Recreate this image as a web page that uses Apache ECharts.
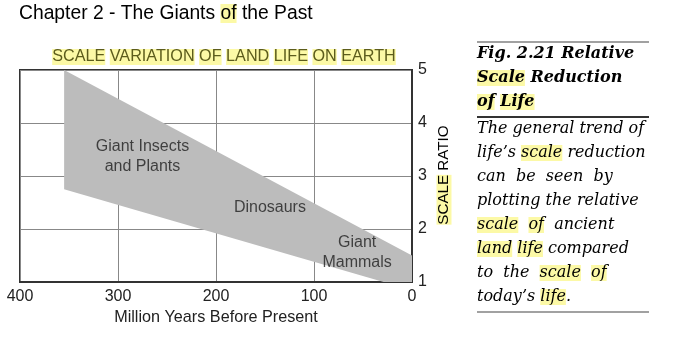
<!DOCTYPE html>
<html><head><meta charset="utf-8">
<script src="https://cdn.jsdelivr.net/npm/echarts@6/dist/echarts.min.js"></script>
<style>html,body{margin:0;padding:0;background:#fff}#c{width:678px;height:348px}</style>
</head><body><div id="c"></div>
<script>
// ---- data ----
const xTicks = [400, 300, 200, 100, 0];
const yTicks = [1, 2, 3, 4, 5];
const upperYears = [355, 0];
const upperRatio = [5, 1.5];
const lowerYears = [355, 29, 0];
const lowerRatio = [2.75, 1, 1];
const labelNames = ['Giant Insects\nand Plants', 'Dinosaurs', 'Giant\nMammals'];
const labelYears = [275, 145, 56];
const labelRatio = [3.36, 2.4, 1.55];

const HL = '#fcf9a6', HT = '#5c5c1c';
const chart = echarts.init(document.getElementById('c'), null, {renderer: 'canvas'});

const bandPoints = [];
upperYears.forEach((y, i) => bandPoints.push([y, upperRatio[i]]));
for (let i = lowerYears.length - 1; i >= 0; i--) bandPoints.push([lowerYears[i], lowerRatio[i]]);

const serifLines = [
  {y: 54, t: '{b|Fig. 2.21 Relative}'},
  {y: 78, t: '{bh|Scale}{b| Reduction}'},
  {y: 102, t: '{bh|of}{b| }{bh|Life}'},
  {y: 129, t: '{n|The general trend of}'},
  {y: 153, t: "{n|life’s }{h|scale}{n| reduction}"},
  {y: 177, t: '{n|can  be  seen  by}'},
  {y: 201, t: '{n|plotting the relative}'},
  {y: 225, t: '{h|scale}{n|  }{h|of}{n|  ancient}'},
  {y: 249, t: '{h|land}{n| }{h|life}{n| compared}'},
  {y: 273, t: '{n|to  the  }{h|scale}{n|  }{h|of}'},
  {y: 297, t: "{n|today’s }{h|life}{n|.}"}
];
const serif = 'DejaVu Serif';
const FS = 16;
const richSerif = {
  b: {fontFamily: serif, fontStyle: 'italic', fontWeight: 'bold', fontSize: FS, color: '#1a1a1a'},
  bh: {fontFamily: serif, fontStyle: 'italic', fontWeight: 'bold', fontSize: FS, color: HT, backgroundColor: HL},
  n: {fontFamily: serif, fontStyle: 'italic', fontSize: FS, color: '#222'},
  h: {fontFamily: serif, fontStyle: 'italic', fontSize: FS, color: HT, backgroundColor: HL}
};
const yNameRich = {h: {fontFamily: 'Liberation Sans', fontSize: 15.2, color: HT, backgroundColor: HL},
                   n: {fontFamily: 'Liberation Sans', fontSize: 15.2, color: '#222'}};

const graphics = [
  {type: 'text', left: 19, top: 4, style: {text: '{n|Chapter 2 - The Giants }{h|of}{n| the Past}',
    rich: {n: {fontFamily: 'Liberation Sans', fontSize: 19.3, color: '#222'},
           h: {fontFamily: 'Liberation Sans', fontSize: 19.3, color: HT, backgroundColor: HL}}}},
  {type: 'text', x: 444, y: 175, rotation: Math.PI / 2,
    style: {text: '{h|SCALE}{n| RATIO}', align: 'center', verticalAlign: 'middle', rich: yNameRich}},
  {type: 'line', shape: {x1: 477, y1: 42, x2: 649, y2: 42}, style: {stroke: '#444', lineWidth: 1.2}},
  {type: 'line', shape: {x1: 477, y1: 117, x2: 649, y2: 117}, style: {stroke: '#333', lineWidth: 2}},
  {type: 'line', shape: {x1: 477, y1: 312, x2: 649, y2: 312}, style: {stroke: '#444', lineWidth: 1.2}}
];
serifLines.forEach(l => graphics.push({type: 'text', x: 477, y: l.y,
  style: {text: l.t, rich: richSerif, verticalAlign: 'middle', align: 'left'}}));

chart.setOption({
  animation: false,
  title: {
    text: '{h|SCALE} {h|VARIATION} {h|OF} {h|LAND} {h|LIFE} {h|ON} {h|EARTH}',
    left: 219, top: 44, textAlign: 'center',
    textStyle: {fontWeight: 'normal', fontSize: 16.2, fontFamily: 'Liberation Sans',
      rich: {h: {fontFamily: 'Liberation Sans', fontWeight: 'normal', fontSize: 16.2, color: HT, backgroundColor: HL}}}
  },
  grid: {left: 20, right: 266, top: 70, bottom: 66, show: true, borderColor: '#333', borderWidth: 2, backgroundColor: 'transparent'},
  xAxis: {
    type: 'value', inverse: true, min: 0, max: 400, interval: 100,
    name: 'Million Years Before Present', nameLocation: 'middle', nameGap: 28,
    nameTextStyle: {fontFamily: 'Liberation Sans', fontSize: 16.2, color: '#222'},
    axisLine: {show: true, lineStyle: {color: '#333', width: 2}},
    axisTick: {show: false},
    axisLabel: {fontFamily: 'Liberation Sans', fontSize: 16, color: '#222', margin: 7,
      formatter: v => xTicks.includes(v) ? String(v) : ''},
    splitLine: {show: true, lineStyle: {color: '#888', width: 1}}
  },
  yAxis: {
    type: 'value', position: 'right', min: 1, max: 5, interval: 1,
    axisLine: {show: true, lineStyle: {color: '#333', width: 2}},
    axisTick: {show: false},
    axisLabel: {fontFamily: 'Liberation Sans', fontSize: 16, color: '#222', margin: 6,
      formatter: v => yTicks.includes(v) ? String(v) : ''},
    splitLine: {show: true, lineStyle: {color: '#888', width: 1}}
  },
  series: [
    {
      type: 'custom', z: 1, clip: true,
      data: [0],
      renderItem: (params, api) => ({
        type: 'polygon',
        shape: {points: bandPoints.map(p => api.coord(p))},
        style: {fill: '#bcbcbc', stroke: null}
      })
    },
    {
      type: 'scatter', symbolSize: 0, z: 3,
      data: labelNames.map((n, i) => [labelYears[i], labelRatio[i], n]),
      label: {show: true, position: 'inside', formatter: p => p.data[2],
        fontFamily: 'Liberation Sans', fontSize: 16, color: '#1e1e1e', lineHeight: 20, align: 'center'}
    }
  ],
  graphic: graphics
});
</script></body></html>
